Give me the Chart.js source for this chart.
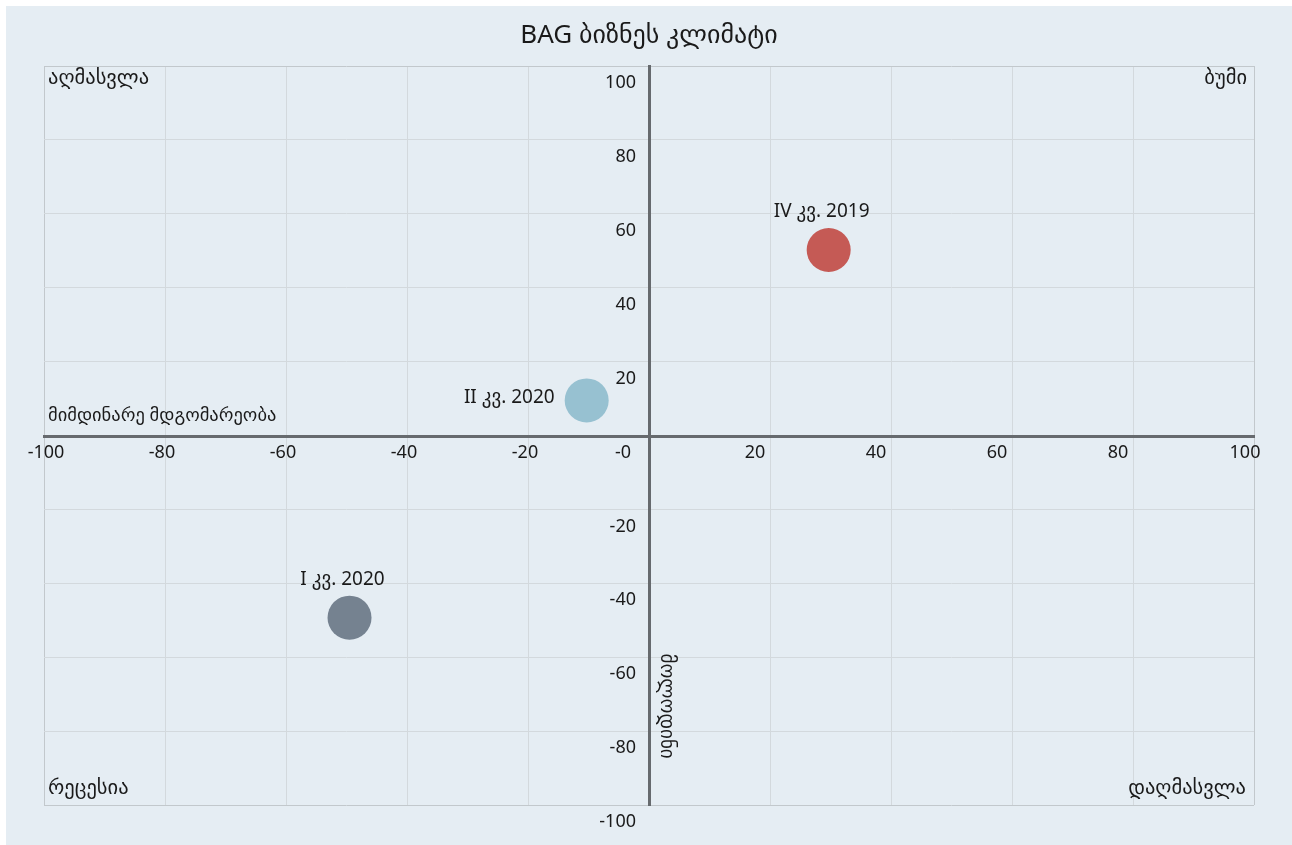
<!DOCTYPE html>
<html lang="ka">
<head>
<meta charset="UTF-8">
<title>BAG ბიზნეს კლიმატი</title>
<script src="https://cdn.jsdelivr.net/npm/chart.js"></script>
<style>
    body {
        margin: 0;
        padding: 6px 0 0 6px;
        background: #ffffff;
    }
    .chart-box {
        width: 1286px;
        height: 839px;
        background: #e5edf3;
    }
</style>
</head>
<body>
<div class="chart-box">
    <canvas id="climateChart" width="1286" height="839"></canvas>
</div>
<script>
    // data
    const periods = ['IV კვ. 2019', 'I კვ. 2020', 'II კვ. 2020'];
    const currentState = [29.7, -49.5, -10.3];   // x: მიმდინარე მდგომარეობა
    const expectations = [50.2, -49.3, 9.5];     // y: მოლოდინი
    const pointColors = ['#c55a55', '#758290', '#97c1d1'];
    const labelSide = ['top', 'top', 'left'];

    const quadrants = {
        topLeft: 'აღმასვლა',
        topRight: 'ბუმი',
        bottomLeft: 'რეცესია',
        bottomRight: 'დაღმასვლა'
    };
    const xTitle = 'მიმდინარე მდგომარეობა';
    const yTitle = 'მოლოდინი';

    const FONT = "'Noto Sans', 'DejaVu Sans', sans-serif";
    const TEXT = '#1a1a1a';

    function gridColor(ctx) {
        const v = ctx.tick ? ctx.tick.value : null;
        if (v === 0) return 'rgba(0,0,0,0)';
        if (v === 100 || v === -100) return '#c2c8cc';
        return '#d3d9dd';
    }

    // x tick labels sit a little left of their grid lines in the original
    function xLabelShift(v) {
        if (v === -100) return 2;
        if (v < 0) return -3;
        if (v === 0) return -26;
        if (v === 100) return -9;
        return -15;
    }

    const textPlugin = {
        id: 'quadrantText',
        afterDatasetsDraw(chart) {
            const c = chart.ctx;
            const area = chart.chartArea;
            const xs = chart.scales.x;
            const ys = chart.scales.y;
            const x0 = xs.getPixelForValue(0);
            const y0 = ys.getPixelForValue(0);
            c.save();
            c.fillStyle = TEXT;

            // x tick labels from the x scale
            c.font = '18px ' + FONT;
            c.textAlign = 'center';
            c.textBaseline = 'top';
            xs.ticks.forEach(t => {
                const label = t.value === 0 ? '-0' : String(t.value);
                c.fillText(label, xs.getPixelForValue(t.value) + xLabelShift(t.value), y0 + 8);
            });

            c.textBaseline = 'middle';
            c.font = '20.5px ' + FONT;
            c.textAlign = 'left';
            c.fillText(quadrants.topLeft, area.left + 4, area.top + 12);
            c.fillText(quadrants.bottomLeft, area.left + 4, area.bottom - 17);
            c.textAlign = 'right';
            c.fillText(quadrants.topRight, area.right - 7, area.top + 12);
            c.fillText(quadrants.bottomRight, area.right - 8, area.bottom - 17);

            c.font = '18.5px ' + FONT;
            c.textAlign = 'left';
            c.fillText(xTitle, area.left + 4, y0 - 20);

            // rotated y title beside the vertical axis
            c.save();
            c.font = '19px ' + FONT;
            c.translate(x0 + 8, ys.getPixelForValue(-59));
            c.rotate(Math.PI / 2);
            c.textAlign = 'left';
            c.textBaseline = 'bottom';
            c.fillText(yTitle, 0, 0);
            c.restore();

            // point labels
            c.font = '19px ' + FONT;
            const meta = chart.getDatasetMeta(0);
            meta.data.forEach((pt, i) => {
                if (labelSide[i] === 'left') {
                    c.textAlign = 'right';
                    c.fillText(periods[i], pt.x - 32, pt.y - 3);
                } else {
                    c.textAlign = 'center';
                    c.fillText(periods[i], pt.x - 7, pt.y - 38);
                }
            });
            c.restore();
        }
    };

    new Chart(document.getElementById('climateChart'), {
        type: 'scatter',
        data: {
            labels: periods,
            datasets: [{
                data: currentState.map((x, i) => ({ x: x, y: expectations[i] })),
                backgroundColor: pointColors,
                borderWidth: 0,
                pointRadius: 22,
                pointHoverRadius: 22
            }]
        },
        options: {
            responsive: false,
            animation: false,
            events: [],
            layout: {
                padding: { left: 38, right: 38, top: 0, bottom: 40 }
            },
            plugins: {
                legend: { display: false },
                tooltip: { enabled: false },
                title: {
                    display: true,
                    text: 'BAG ბიზნეს კლიმატი',
                    color: TEXT,
                    font: { family: FONT, size: 26, weight: 'normal' },
                    padding: { top: 14, bottom: 14.8 }
                }
            },
            scales: {
                x: {
                    type: 'linear',
                    position: 'center',
                    min: -100,
                    max: 100,
                    grid: { color: gridColor, lineWidth: 1, drawTicks: false },
                    border: { color: '#666a6e', width: 3 },
                    ticks: { stepSize: 20, display: false }
                },
                y: {
                    type: 'linear',
                    position: 'center',
                    min: -100,
                    max: 100,
                    grid: { color: gridColor, lineWidth: 1, drawTicks: false },
                    border: { color: '#666a6e', width: 3 },
                    ticks: {
                        stepSize: 20,
                        padding: 13,
                        color: TEXT,
                        font: { family: FONT, size: 18 },
                        labelOffset: 17,
                        callback: v => v === 0 ? '' : v
                    }
                }
            }
        },
        plugins: [textPlugin]
    });
</script>
</body>
</html>
